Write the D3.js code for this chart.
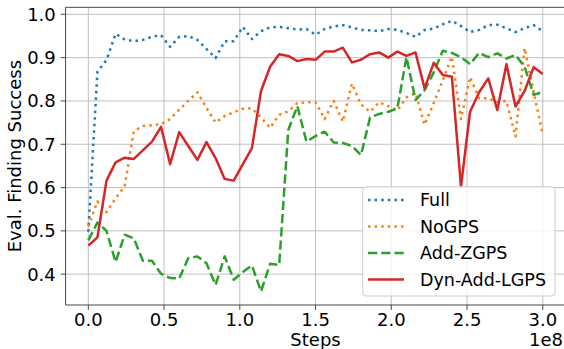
<!DOCTYPE html>
<html>
<head>
<meta charset="utf-8">
<script src="https://cdn.jsdelivr.net/npm/d3@7"></script>
<style>
  body { margin: 0; background: #fff; }
  text { font-family: "DejaVu Sans", sans-serif; fill: #000; }
</style>
</head>
<body>
<div id="chart"></div>
<script>
// evaluation steps (in millions)
let steps = [0, 6, 12, 18, 24, 30, 36, 42, 48, 54, 60, 66, 72, 78, 84, 90, 96, 102, 108, 114,
  120, 126, 132, 138, 144, 150, 156, 162, 168, 174, 180, 186, 192, 198, 204, 210, 216, 222,
  228, 234, 240, 246, 252, 258, 264, 270, 276, 282, 288, 294, 300];

let full = [0.498, 0.867, 0.895, 0.955, 0.942, 0.938, 0.941, 0.948, 0.952, 0.925, 0.948,
  0.950, 0.941, 0.920, 0.899, 0.938, 0.938, 0.971, 0.943, 0.961, 0.970, 0.971, 0.968,
  0.965, 0.966, 0.953, 0.966, 0.972, 0.975, 0.970, 0.964, 0.963, 0.961, 0.966, 0.964,
  0.957, 0.948, 0.964, 0.967, 0.977, 0.985, 0.973, 0.959, 0.964, 0.975, 0.976, 0.968,
  0.959, 0.968, 0.975, 0.961];

let noGps = [0.510, 0.568, 0.543, 0.575, 0.603, 0.730, 0.742, 0.744, 0.746, 0.758, 0.780,
  0.800, 0.820, 0.784, 0.750, 0.765, 0.774, 0.782, 0.783, 0.762, 0.738, 0.768, 0.776,
  0.795, 0.797, 0.797, 0.758, 0.800, 0.752, 0.840, 0.792, 0.775, 0.797, 0.788, 0.778,
  0.808, 0.818, 0.745, 0.795, 0.848, 0.902, 0.758, 0.855, 0.806, 0.806, 0.798, 0.800,
  0.718, 0.922, 0.820, 0.722];

let addZgps = [0.478, 0.519, 0.500, 0.428, 0.491, 0.483, 0.431, 0.431, 0.401, 0.391, 0.390,
  0.437, 0.441, 0.425, 0.375, 0.441, 0.387, 0.405, 0.420, 0.360, 0.424, 0.421, 0.733,
  0.788, 0.706, 0.719, 0.729, 0.704, 0.703, 0.696, 0.675, 0.762, 0.770, 0.775, 0.783,
  0.901, 0.802, 0.825, 0.866, 0.916, 0.911, 0.901, 0.885, 0.911, 0.901, 0.910, 0.898,
  0.906, 0.879, 0.814, 0.821];

let dynAddLgps = [0.466, 0.485, 0.616, 0.658, 0.669, 0.666, 0.686, 0.706, 0.740, 0.654, 0.728,
  0.696, 0.664, 0.705, 0.668, 0.620, 0.616, 0.654, 0.691, 0.823, 0.879, 0.908, 0.904,
  0.892, 0.897, 0.895, 0.914, 0.914, 0.923, 0.889, 0.895, 0.908, 0.912, 0.900, 0.914,
  0.904, 0.912, 0.829, 0.888, 0.860, 0.856, 0.602, 0.775, 0.820, 0.852, 0.779, 0.885,
  0.787, 0.823, 0.878, 0.862];

let seriesNames = ["Full", "NoGPS", "Add-ZGPS", "Dyn-Add-LGPS"];
let xTicks = [0, 0.5e8, 1e8, 1.5e8, 2e8, 2.5e8, 3e8];
let xTickLabels = ["0.0", "0.5", "1.0", "1.5", "2.0", "2.5", "3.0"];
let yTicks = [0.4, 0.5, 0.6, 0.7, 0.8, 0.9, 1.0];

let width = 564, height = 349;
let plot = { left: 65.6, right: 565.5, top: 7.3, bottom: 305 };

let svg = d3.select("#chart")
    .append("svg")
    .attr("width", width)
    .attr("height", height);

svg.append("rect").attr("width", width).attr("height", height).attr("fill", "#fff");

// matplotlib style autoscale with 5% margins
let xs = steps.map(s => s * 1e6);
let xr = d3.extent(xs);
let xpad = (xr[1] - xr[0]) * 0.05;
let allY = full.concat(noGps, addZgps, dynAddLgps);
let yr = d3.extent(allY);
let ypad = (yr[1] - yr[0]) * 0.05;

let x = d3.scaleLinear().domain([xr[0] - xpad, xr[1] + xpad]).range([plot.left, plot.right]);
let y = d3.scaleLinear().domain([yr[0] - ypad, yr[1] + ypad]).range([plot.bottom, plot.top]);

// grid
let grid = svg.append("g").attr("stroke", "#b0b0b0").attr("stroke-width", 0.8);
grid.selectAll(".vg").data(xTicks).enter().append("line")
    .attr("x1", d => x(d)).attr("x2", d => x(d))
    .attr("y1", plot.top).attr("y2", plot.bottom);
grid.selectAll(".hg").data(yTicks).enter().append("line")
    .attr("y1", d => y(d)).attr("y2", d => y(d))
    .attr("x1", plot.left).attr("x2", plot.right);

// lines
let series = [
    { name: seriesNames[0], values: full, color: "#1f77b4", dash: "2.5,4.1" },
    { name: seriesNames[1], values: noGps, color: "#ff7f0e", dash: "2.5,4.1" },
    { name: seriesNames[2], values: addZgps, color: "#2ca02c", dash: "9.25,4" },
    { name: seriesNames[3], values: dynAddLgps, color: "#d62728", dash: null }
];

let line = d3.line()
    .x((d, i) => x(xs[i]))
    .y(d => y(d));

svg.append("g")
    .selectAll("path")
    .data(series)
    .enter()
    .append("path")
    .attr("d", d => line(d.values))
    .attr("fill", "none")
    .attr("stroke", d => d.color)
    .attr("stroke-width", 2.5)
    .attr("stroke-linejoin", "round")
    .attr("stroke-dasharray", d => d.dash);

// spines
let spines = svg.append("g").attr("stroke", "#333").attr("stroke-width", 0.9);
spines.append("line").attr("x1", plot.left).attr("x2", plot.left).attr("y1", plot.top).attr("y2", plot.bottom);
spines.append("line").attr("x1", plot.left).attr("x2", plot.right).attr("y1", plot.bottom).attr("y2", plot.bottom);
spines.append("line").attr("x1", plot.left).attr("x2", plot.right).attr("y1", plot.top).attr("y2", plot.top);

// ticks
let tl = 4.9;
spines.selectAll(".xt").data(xTicks).enter().append("line")
    .attr("x1", d => x(d)).attr("x2", d => x(d))
    .attr("y1", plot.bottom).attr("y2", plot.bottom + tl);
spines.selectAll(".yt").data(yTicks).enter().append("line")
    .attr("y1", d => y(d)).attr("y2", d => y(d))
    .attr("x1", plot.left).attr("x2", plot.left - tl);

let fs = 18;
svg.append("g").selectAll("text").data(xTicks).enter().append("text")
    .attr("x", d => x(d))
    .attr("y", 326)
    .attr("text-anchor", "middle")
    .attr("font-size", fs)
    .text((d, i) => xTickLabels[i]);

svg.append("g").selectAll("text").data(yTicks).enter().append("text")
    .attr("x", plot.left - 2 * tl)
    .attr("y", d => y(d))
    .attr("dy", "0.36em")
    .attr("text-anchor", "end")
    .attr("font-size", fs)
    .text(d => d.toFixed(1));

svg.append("text")
    .attr("x", (plot.left + plot.right) / 2)
    .attr("y", 346)
    .attr("text-anchor", "middle")
    .attr("font-size", fs)
    .text("Steps");

svg.append("text")
    .attr("x", 563)
    .attr("y", 346)
    .attr("text-anchor", "end")
    .attr("font-size", fs)
    .text("1e8");

svg.append("text")
    .attr("transform", "translate(21," + (plot.top + plot.bottom) / 2 + ") rotate(-90)")
    .attr("text-anchor", "middle")
    .attr("font-size", fs)
    .text("Eval. Finding Success");

// legend
let legend = svg.append("g");
legend.append("rect")
    .attr("x", 362.7).attr("y", 186.7)
    .attr("width", 192.3).attr("height", 109.3)
    .attr("rx", 3.5)
    .attr("fill", "#fff").attr("fill-opacity", 0.8)
    .attr("stroke", "#cccccc").attr("stroke-width", 1);

let rows = legend.selectAll(".row").data(series).enter().append("g")
    .attr("transform", (d, i) => "translate(0," + (200 + i * 26.5) + ")");
rows.append("line")
    .attr("x1", 368).attr("x2", 404)
    .attr("stroke", d => d.color)
    .attr("stroke-width", 2.5)
    .attr("stroke-dasharray", d => d.dash);
rows.append("text")
    .attr("x", 420)
    .attr("dy", "0.36em")
    .attr("font-size", 17.5)
    .text(d => d.name);
</script>
</body>
</html>
